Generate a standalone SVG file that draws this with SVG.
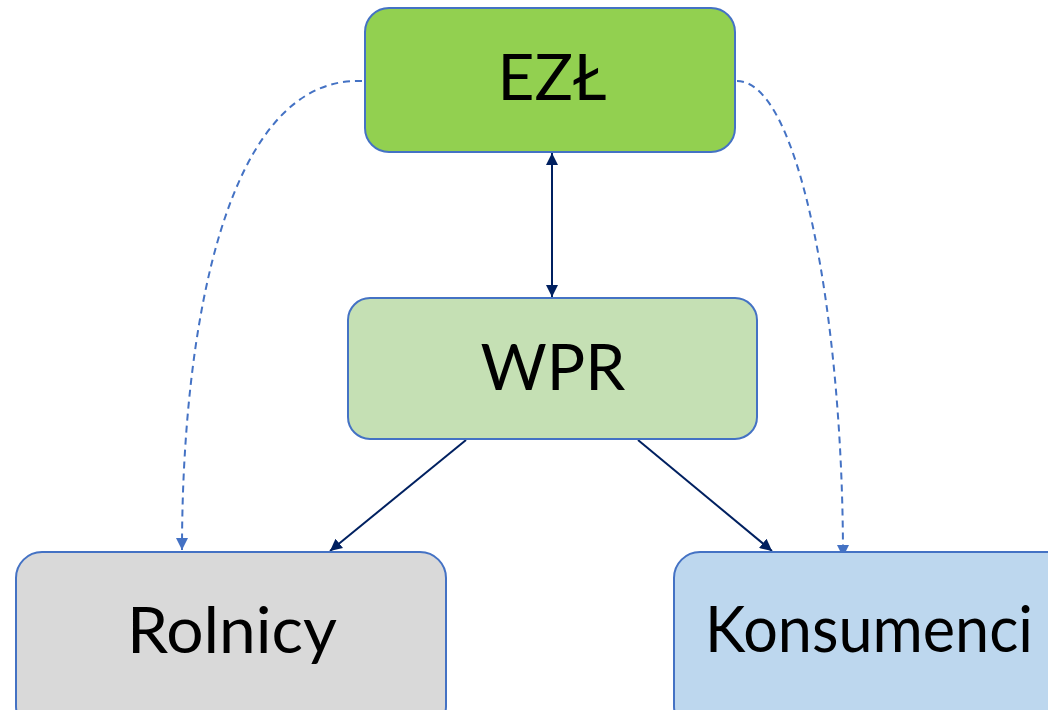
<svg xmlns="http://www.w3.org/2000/svg" width="1048" height="710" viewBox="0 0 1048 710">
<style>
.box{stroke:#4472C4;stroke-width:2}
.lbl{font-family:Lato,"Open Sans","Liberation Sans",sans-serif;font-size:64px;fill:#000;text-anchor:middle}
.solid{fill:none;stroke:#002060;stroke-width:2}
.dash{fill:none;stroke:#4472C4;stroke-width:2;stroke-dasharray:7 5}
</style>
<defs>
<marker id="aNb" viewBox="0 0 10 10" refX="10" refY="5" markerWidth="12" markerHeight="12" orient="auto-start-reverse" markerUnits="userSpaceOnUse"><path d="M0,0 L10,5 L0,10 z" fill="#002060"/></marker>
<marker id="aB" viewBox="0 0 10 10" refX="10" refY="5" markerWidth="12" markerHeight="12" orient="auto" markerUnits="userSpaceOnUse"><path d="M0,0 L10,5 L0,10 z" fill="#4472C4"/></marker>
</defs>
<rect width="1048" height="710" fill="#fff"/>
<g id="connectors">
<line class="solid" x1="552" y1="153" x2="552" y2="297" marker-start="url(#aNb)" marker-end="url(#aNb)"/>
<line class="solid" x1="466" y1="440" x2="330" y2="551" marker-end="url(#aNb)"/>
<line class="solid" x1="638" y1="440" x2="772" y2="551" marker-end="url(#aNb)"/>
<path class="dash" d="M362,81 C225,76 182,330 182,550" marker-end="url(#aB)"/>
<path class="dash" d="M737,81 C800,81 843,320 843,557" marker-end="url(#aB)"/>
</g>
<g id="ezl">
<rect class="box" x="365" y="8" width="370" height="144" rx="24" fill="#92D050"/>
<text class="lbl" x="552" y="100">EZŁ</text>
</g>
<g id="wpr">
<rect class="box" x="348" y="298" width="409" height="141" rx="22" fill="#C5E0B4"/>
<text class="lbl" x="553" y="390">WPR</text>
</g>
<g id="rolnicy">
<rect class="box" x="16" y="552" width="430" height="180" rx="26" fill="#D9D9D9"/>
<text class="lbl" x="232" y="653" textLength="210" lengthAdjust="spacingAndGlyphs">Rolnicy</text>
</g>
<g id="konsumenci">
<rect class="box" x="674" y="552" width="400" height="180" rx="26" fill="#BDD7EE"/>
<text class="lbl" x="869" y="652" textLength="328" lengthAdjust="spacingAndGlyphs">Konsumenci</text>
</g>
</svg>
